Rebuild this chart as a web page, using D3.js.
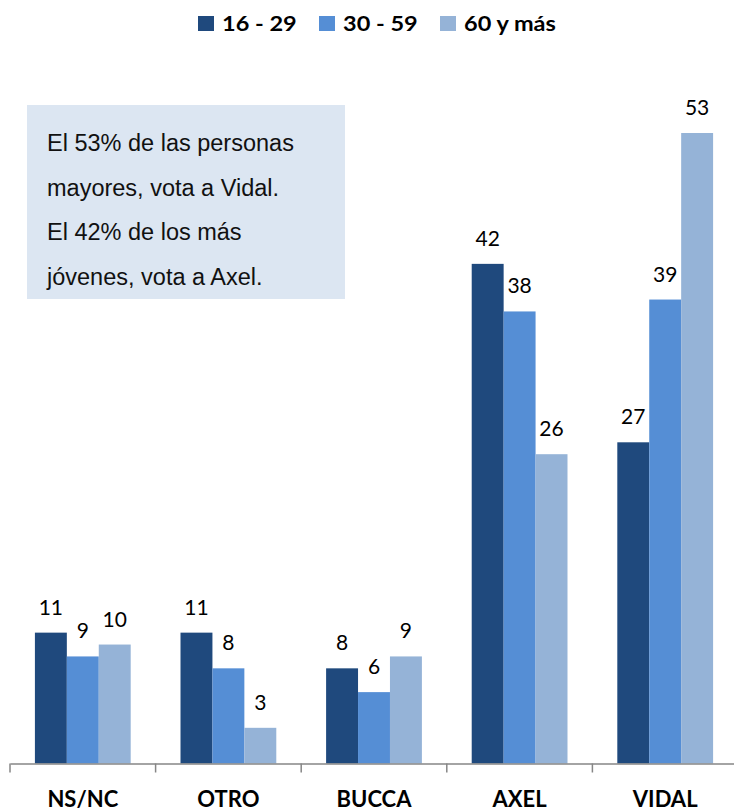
<!DOCTYPE html>
<html><head><meta charset="utf-8">
<script src="https://cdn.jsdelivr.net/npm/d3@7"></script>
<style>body{margin:0;background:#fff}</style>
</head><body>
<svg id="c" width="734" height="811"></svg>
<script>
const categories = ["NS/NC","OTRO","BUCCA","AXEL","VIDAL"];
const seriesNames = ["16 - 29","30 - 59","60 y más"];
const s1629 = [11,11,8,42,27];
const s3059 = [9,8,6,38,39];
const s60 = [10,3,9,26,53];
const colors = ["#1f497d","#558ed5","#95b3d7"];
const noteLines = ["El 53% de las personas","mayores, vota a Vidal.","El 42% de los más","jóvenes, vota a Axel."];

const series = [s1629,s3059,s60];
const svg = d3.select("#c");
const baseY = 763.5;
const x0 = d3.scaleBand().domain(categories).range([10,738]).paddingInner(0).paddingOuter(0);
const x1 = d3.scaleBand().domain(seriesNames).range([0,x0.bandwidth()]).paddingOuter(0.78).paddingInner(0);
const y = d3.scaleLinear().domain([0,53]).range([baseY,133]);
const LATO = "Lato, 'Open Sans', sans-serif";

// note box
const ng = svg.append("g");
ng.append("rect").attr("x",27).attr("y",105).attr("width",318).attr("height",194).attr("fill","#dce6f2");
ng.selectAll("text").data(noteLines).join("text")
  .attr("x",47).attr("y",(d,i)=>151+i*44.5)
  .attr("font-family","'Liberation Sans', Arial, sans-serif").attr("font-size",23.5).attr("fill","#111")
  .text(d=>d);

// bars
const g = svg.append("g");
categories.forEach((c,ci)=>{
  series.forEach((s,si)=>{
    const bx = x0(c)+x1(seriesNames[si]);
    g.append("rect").attr("x",bx).attr("y",y(s[ci])).attr("width",x1.bandwidth()).attr("height",baseY-y(s[ci]))
      .attr("fill",colors[si]);
    g.append("text").attr("x",bx+x1.bandwidth()/2).attr("y",y(s[ci])-18)
      .attr("text-anchor","middle").attr("font-family",LATO).attr("font-size",21).attr("fill","#000")
      .text(s[ci]);
  });
});

// axis
const ax = svg.append("g").attr("transform",`translate(0,${baseY})`)
  .call(d3.axisBottom(x0).tickSizeOuter(0).tickSizeInner(0).tickPadding(0));
ax.select(".domain").attr("stroke","#868686").attr("stroke-width",1.5);
ax.selectAll(".tick line").remove();
const tickXs = categories.map(c=>x0(c));
ax.selectAll(".sep").data(tickXs).join("line").attr("class","sep")
  .attr("x1",d=>d).attr("x2",d=>d).attr("y1",0).attr("y2",9).attr("stroke","#868686").attr("stroke-width",1.5);
ax.selectAll(".tick text").attr("font-family",LATO).attr("font-size",22).attr("font-weight","bold").attr("fill","#000")
  .attr("y",43.5).attr("dy",0);

// legend
const legX = [198,319,440];
const lg = svg.append("g");
seriesNames.forEach((n,i)=>{
  lg.append("rect").attr("x",legX[i]).attr("y",16).attr("width",16).attr("height",15).attr("fill",colors[i]);
  lg.append("text").attr("transform",`translate(${legX[i]+24},30.5) scale(1.12,1)`).attr("font-family",LATO)
    .attr("font-size",21).attr("font-weight","bold").attr("fill","#000").text(n);
});
</script>
</body></html>
